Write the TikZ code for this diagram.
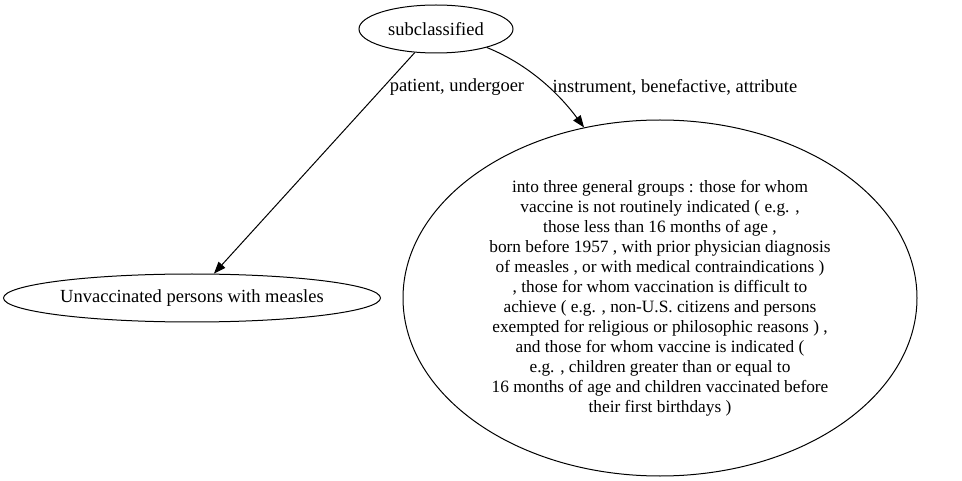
\documentclass[tikz,border=0pt]{standalone}
\usepackage{fontspec}
\setmainfont{Liberation Serif}
\usetikzlibrary{shapes.geometric,arrows.meta}
\begin{document}
\begin{tikzpicture}[x=1pt,y=-1pt,
  ell/.style={draw,ellipse,inner sep=0pt,line width=1pt,font=\fontsize{18.5}{20}\selectfont},
  edge/.style={-{Triangle[length=12pt,width=9pt]},line width=1pt},
  lbl/.style={font=\fontsize{18.5}{20}\selectfont,inner sep=0pt}]
\useasboundingbox (0,0) rectangle (962,481);
\node[ell,minimum width=154pt,minimum height=48pt] (s) at (436,29) {subclassified};
\node[ell,minimum width=377pt,minimum height=48pt] (u) at (192,298) {Unvaccinated persons with measles};
\node[ell,minimum width=514pt,minimum height=356pt,align=center,font=\fontsize{17.3}{20}\selectfont] (b) at (660,298) {into three general groups : those for whom\\
vaccine is not routinely indicated ( e.g. ,\\
those less than 16 months of age ,\\
born before 1957 , with prior physician diagnosis\\
of measles , or with medical contraindications )\\
, those for whom vaccination is difficult to\\
achieve ( e.g. , non-U.S. citizens and persons\\
exempted for religious or philosophic reasons ) ,\\
and those for whom vaccine is indicated (\\
e.g. , children greater than or equal to\\
16 months of age and children vaccinated before\\
their first birthdays )};
\draw[edge] (s.228.8) -- (u.48.8);
\draw[edge] (s.-20.2) .. controls (530,65) and (560,95) .. (b.114.6);
\node[lbl] (l1) at (457,87) {patient, undergoer};
\node[lbl] (l2) at (675,87) {instrument, benefactive, attribute};
\end{tikzpicture}
\end{document}
